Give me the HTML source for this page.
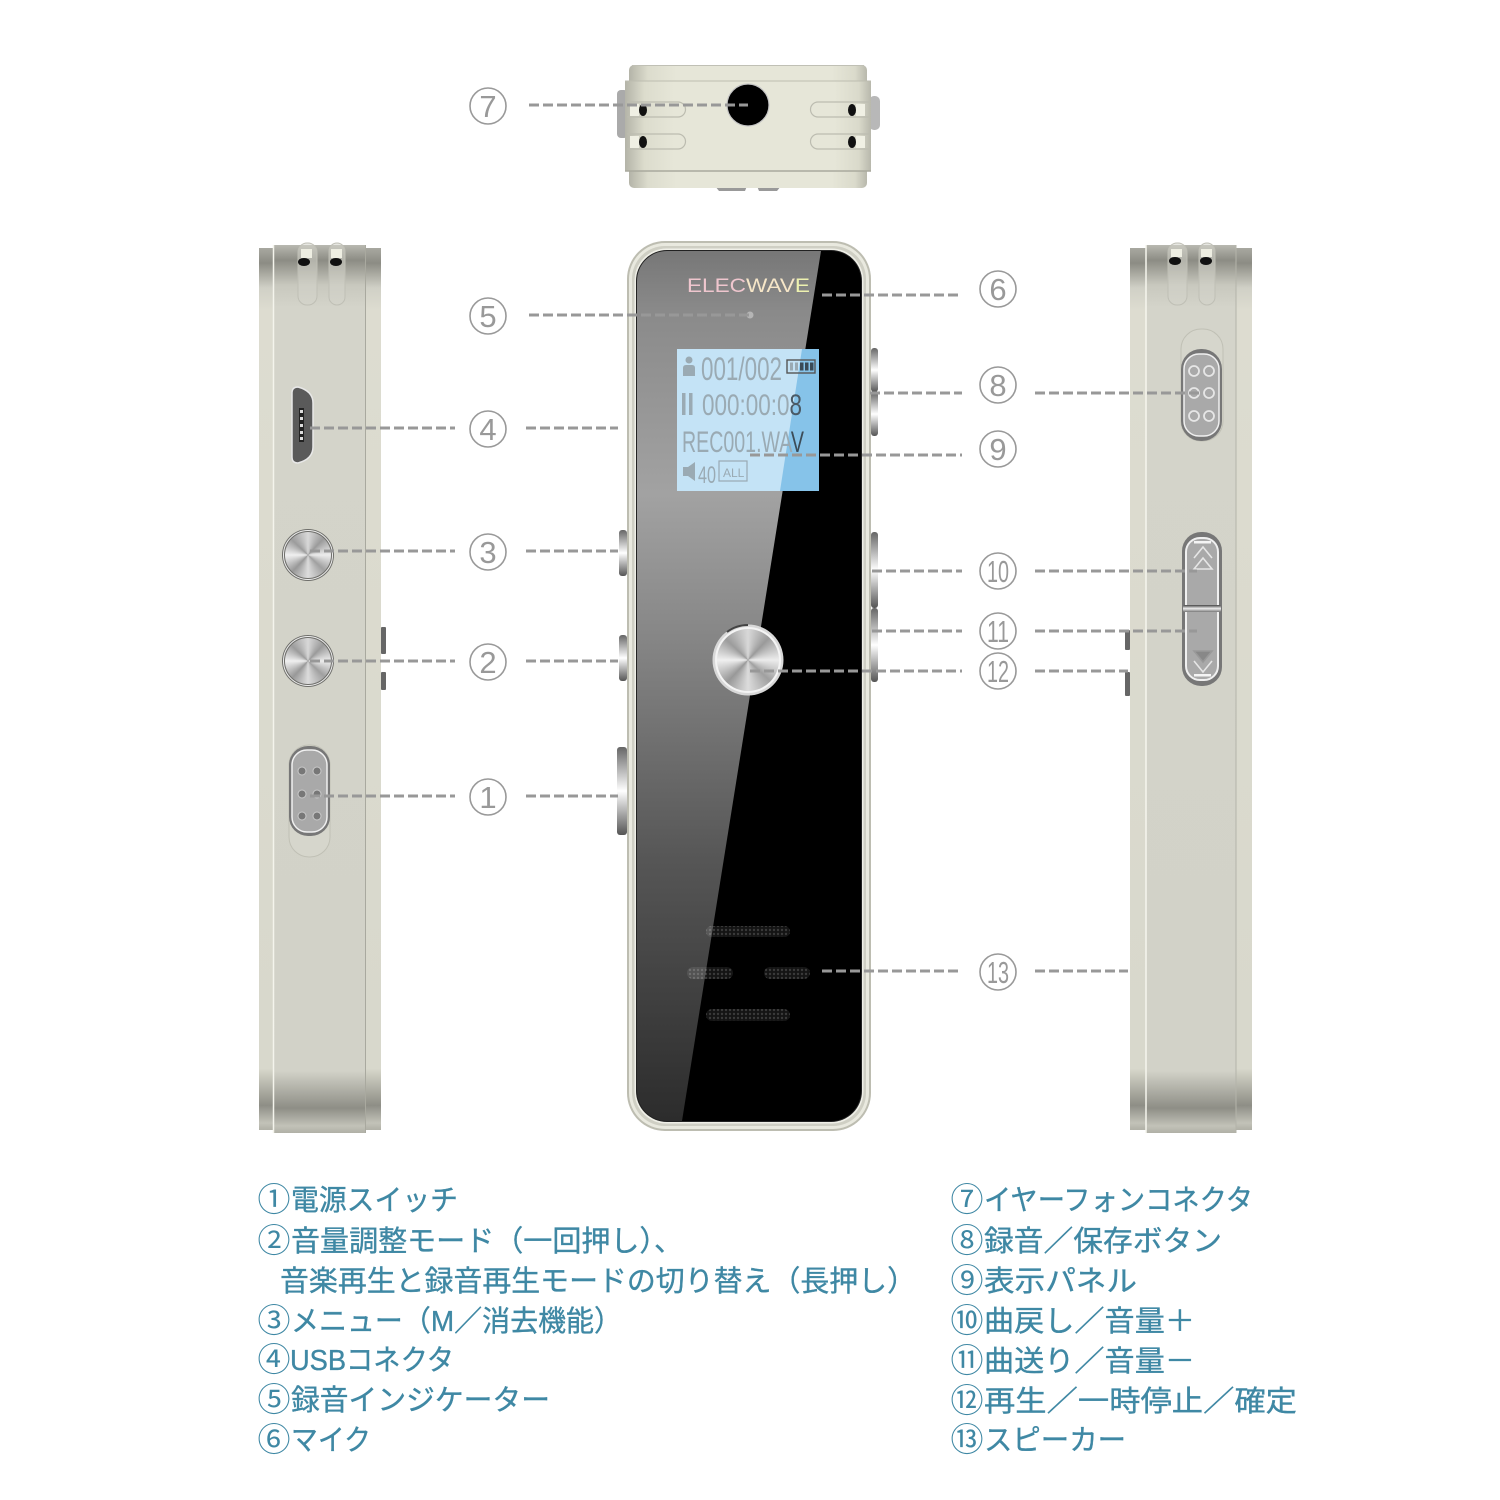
<!DOCTYPE html>
<html><head><meta charset="utf-8"><style>html,body{margin:0;padding:0;background:#fff}svg{display:block}
.t{font-family:"Liberation Sans","Noto Sans CJK JP",sans-serif;font-size:29px;fill:#3f88a4;stroke:#3f88a4;stroke-width:.35}
.c{font-family:"Noto Sans CJK JP",sans-serif;font-size:33px;fill:#3f88a4}
.n{font-family:"Liberation Sans",sans-serif;font-size:31px;fill:#999;text-anchor:middle}
.l{font-family:"Liberation Sans",sans-serif;fill:#9aaab3}
.k{width:100%;height:100%;border-radius:50%;background:conic-gradient(#d8d8d8,#9a9a9a 12%,#ececec 25%,#a0a0a0 37%,#dcdcdc 50%,#989898 62%,#f0f0f0 75%,#9c9c9c 87%,#d8d8d8)}
</style></head><body>
<svg width="1500" height="1500" viewBox="0 0 1500 1500">
<defs>
<linearGradient id="gl" x1="0" x2="0" y1="251" y2="1121" gradientUnits="userSpaceOnUse"><stop offset="0" stop-color="#777"/><stop offset=".07" stop-color="#8a8a8a"/><stop offset=".28" stop-color="#a2a2a2"/><stop offset=".45" stop-color="#858585"/><stop offset=".7" stop-color="#565656"/><stop offset="1" stop-color="#2c2c2c"/></linearGradient>
<linearGradient id="sd" x1="0" x2="0" y1="0" y2="1"><stop offset="0" stop-color="#b8b8b0"/><stop offset=".017" stop-color="#8c8c84"/><stop offset=".045" stop-color="#c8c8be"/><stop offset=".07" stop-color="#d4d4ca"/><stop offset=".93" stop-color="#d2d2c8"/><stop offset=".972" stop-color="#8e8e86"/><stop offset=".992" stop-color="#c2c2b8"/><stop offset="1" stop-color="#b0b0a6"/></linearGradient>
<linearGradient id="sl" x1="0" x2="0" y1="0" y2="1"><stop offset="0" stop-color="#a8a8a0"/><stop offset=".017" stop-color="#8c8c84"/><stop offset=".045" stop-color="#d0d0c6"/><stop offset=".07" stop-color="#dddcd0"/><stop offset=".93" stop-color="#d8d8cc"/><stop offset=".972" stop-color="#8e8e86"/><stop offset=".992" stop-color="#c2c2b8"/><stop offset="1" stop-color="#b0b0a6"/></linearGradient>
<linearGradient id="tp" x1="0" x2="1" y1="0" y2="0"><stop offset="0" stop-color="#b4b4a8"/><stop offset=".08" stop-color="#dcdccd"/><stop offset=".2" stop-color="#e6e6d8"/><stop offset=".85" stop-color="#e6e6d8"/><stop offset=".95" stop-color="#dadacb"/><stop offset="1" stop-color="#b8b8ac"/></linearGradient>
<linearGradient id="tb" x1="0" x2="0" y1="0" y2="1"><stop offset="0" stop-color="#666"/><stop offset=".5" stop-color="#fff"/><stop offset="1" stop-color="#555"/></linearGradient>
<linearGradient id="kn" x1="0" x2="0" y1="0" y2="1"><stop offset="0" stop-color="#444"/><stop offset=".5" stop-color="#eee"/><stop offset="1" stop-color="#777"/></linearGradient>
<pattern id="mesh" width="4" height="4" patternUnits="userSpaceOnUse"><rect width="4" height="4" fill="#fff" fill-opacity=".08"/><circle cx="2" cy="2" r="1.2" fill="#fff" fill-opacity=".16"/></pattern>
<clipPath id="scr"><rect x="637" y="251" width="224" height="870" rx="30"/></clipPath>
</defs>
<rect width="1500" height="1500" fill="#fff"/>

<!-- top view -->
<rect x="617" y="90" width="11" height="48" rx="4" fill="#aaa"/>
<rect x="869" y="96" width="11" height="34" rx="5" fill="#b8b8b8"/>
<path d="M715 186h32l-2 5h-26zM757 186h24l-4 5h-18z" fill="#999"/>
<rect x="629" y="65" width="238" height="123" rx="5" fill="url(#tp)"/>
<rect x="625" y="81" width="246" height="90" fill="url(#tp)"/>
<line x1="625" y1="81" x2="871" y2="81" stroke="#bdbdb0" stroke-width="1"/>
<line x1="625" y1="171" x2="871" y2="171" stroke="#a9a99d" stroke-width="1.5"/>
<line x1="632" y1="65.5" x2="864" y2="65.5" stroke="#c0c0b5" stroke-width="1"/>
<g fill="none" stroke="#bcbcb0" stroke-width="1.2">
<path d="M627 102h51a7.5 7.5 0 0 1 0 15h-51"/><path d="M627 134h51a7.5 7.5 0 0 1 0 15h-51"/>
<path d="M869 102h-51a7.5 7.5 0 0 0 0 15h51"/><path d="M869 134h-51a7.5 7.5 0 0 0 0 15h51"/></g>
<rect x="630" y="104" width="9" height="12" fill="#f0f0e4"/><rect x="630" y="136" width="9" height="12" fill="#f0f0e4"/>
<rect x="856" y="104" width="9" height="12" fill="#f0f0e4"/><rect x="856" y="136" width="9" height="12" fill="#f0f0e4"/>
<ellipse cx="643" cy="110" rx="4" ry="6" fill="#111"/><ellipse cx="643" cy="142" rx="4" ry="6" fill="#111"/>
<ellipse cx="852" cy="110" rx="4" ry="6" fill="#111"/><ellipse cx="852" cy="142" rx="4" ry="6" fill="#111"/>
<circle cx="748" cy="105" r="21" fill="#000" stroke="#c4c4c4" stroke-width="1.2"/>

<!-- left side view -->
<rect x="381" y="627" width="5" height="27" rx="1" fill="#666"/><rect x="381" y="672" width="5" height="18" rx="1" fill="#666"/>
<rect x="259" y="248" width="122" height="882" fill="url(#sl)"/>
<rect x="273" y="245" width="92" height="888" fill="url(#sd)"/>
<line x1="273.5" y1="245" x2="273.5" y2="1133" stroke="#f4f4ec" stroke-width="1.5"/>
<line x1="365.5" y1="245" x2="365.5" y2="1133" stroke="#a9a99f" stroke-width="1"/>
<rect x="298" y="243" width="19" height="62" rx="9" fill="#d4d4ca" fill-opacity=".55" stroke="#bfbfb5"/>
<rect x="329" y="243" width="16" height="62" rx="8" fill="#d4d4ca" fill-opacity=".55" stroke="#bfbfb5"/>
<rect x="301" y="249" width="11" height="9" fill="#eeeee2"/><rect x="331" y="249" width="11" height="9" fill="#eeeee2"/>
<ellipse cx="304" cy="262" rx="6" ry="4" fill="#111"/><ellipse cx="336" cy="262" rx="6" ry="4" fill="#111"/>
<path d="M292 393q0-6 6-6 15 4 15 16v44q0 12-15 16-6 0-6-6z" fill="#5a5a5a" stroke="#e8e8e8" stroke-width="1.5"/>
<rect x="299" y="408" width="5" height="34" fill="#222"/>
<g fill="#ddd"><rect x="300" y="410" width="3" height="3"/><rect x="300" y="417" width="3" height="3"/><rect x="300" y="424" width="3" height="3"/><rect x="300" y="431" width="3" height="3"/><rect x="300" y="437" width="3" height="3"/></g>
<circle cx="308" cy="555" r="26" fill="#6e6e6a"/><circle cx="308" cy="661" r="26" fill="#6e6e6a"/>
<circle cx="308" cy="555" r="24.5" fill="none" stroke="#eee" stroke-width="1"/><circle cx="308" cy="661" r="24.5" fill="none" stroke="#eee" stroke-width="1"/>
<foreignObject x="285" y="532" width="46" height="46"><div class="k"></div></foreignObject>
<foreignObject x="285" y="638" width="46" height="46"><div class="k"></div></foreignObject>
<rect x="289" y="745" width="41" height="112" rx="20" fill="#d6d6cc" stroke="#c0c0b5"/>
<rect x="289" y="746" width="41" height="90" rx="19" fill="#777"/>
<rect x="292" y="750" width="35" height="82" rx="15" fill="#a9a9a9" stroke="#f0f0f0" stroke-width="1.5"/>
<g fill="#777" stroke="#c8c8c8" stroke-width="1"><circle cx="302" cy="771" r="4"/><circle cx="317" cy="771" r="4"/><circle cx="302" cy="794" r="4"/><circle cx="317" cy="794" r="4"/><circle cx="302" cy="816" r="4"/><circle cx="317" cy="816" r="4"/></g>

<!-- right side view -->
<rect x="1125" y="630" width="5" height="20" rx="1" fill="#666"/><rect x="1125" y="672" width="5" height="24" rx="1" fill="#666"/>
<rect x="1130" y="248" width="122" height="882" fill="url(#sl)"/>
<rect x="1146" y="245" width="90" height="888" fill="url(#sd)"/>
<line x1="1146" y1="245" x2="1146" y2="1133" stroke="#f6f6ee" stroke-width="1.5"/>
<line x1="1236" y1="245" x2="1236" y2="1133" stroke="#b4b4aa" stroke-width="1"/>
<rect x="1168" y="243" width="19" height="62" rx="9" fill="#d4d4ca" fill-opacity=".55" stroke="#bfbfb5"/>
<rect x="1199" y="243" width="16" height="62" rx="8" fill="#d4d4ca" fill-opacity=".55" stroke="#bfbfb5"/>
<rect x="1171" y="249" width="11" height="8" fill="#eeeee2"/><rect x="1201" y="249" width="11" height="8" fill="#eeeee2"/>
<ellipse cx="1175" cy="261" rx="6" ry="4" fill="#111"/><ellipse cx="1206" cy="261" rx="6" ry="4" fill="#111"/>
<rect x="1181" y="329" width="42" height="112" rx="20" fill="#d6d6cc" stroke="#c0c0b5"/>
<rect x="1181" y="349" width="41" height="92" rx="20" fill="#777"/>
<rect x="1184" y="354" width="35" height="82" rx="15" fill="#a9a9a9" stroke="#f0f0f0" stroke-width="1.5"/>
<g fill="none" stroke="#e6e6e6" stroke-width="1.8"><circle cx="1194" cy="371" r="5"/><circle cx="1209" cy="371" r="5"/><circle cx="1194" cy="393" r="5"/><circle cx="1209" cy="393" r="5"/><circle cx="1194" cy="416" r="5"/><circle cx="1209" cy="416" r="5"/></g>
<rect x="1182" y="532" width="40" height="154" rx="19" fill="#777"/>
<rect x="1186" y="538" width="32" height="142" rx="14" fill="#a9a9a9" stroke="#f0f0f0" stroke-width="2"/>
<rect x="1183" y="605" width="38" height="7" rx="2" fill="url(#kn)"/>
<g fill="none" stroke="#e6e6e6" stroke-width="1.6"><path d="M1194 558l9-11 9 11"/><path d="M1194 569l9-11 9 11h-18z"/><path d="M1194 651l9 11 9-11z" fill="#888" stroke="#999"/><path d="M1194 661l9 11 9-11"/></g>
<rect x="1194" y="541" width="17" height="2.5" fill="#f4f4f4"/><rect x="1194" y="674" width="17" height="2.5" fill="#f4f4f4"/>

<!-- front -->
<rect x="619" y="530" width="8" height="46" rx="3" fill="url(#tb)"/>
<rect x="619" y="635" width="8" height="46" rx="3" fill="url(#tb)"/>
<rect x="617" y="747" width="10" height="88" rx="3" fill="url(#tb)"/>
<rect x="871" y="348" width="7" height="44" rx="3" fill="url(#tb)"/><rect x="871" y="392" width="7" height="44" rx="3" fill="url(#tb)"/>
<rect x="871" y="532" width="7" height="76" rx="3" fill="url(#tb)"/><rect x="871" y="608" width="7" height="74" rx="3" fill="url(#tb)"/>
<rect x="627" y="241" width="244" height="890" rx="38" fill="#bdbdb1"/>
<rect x="629" y="243" width="240" height="886" rx="36" fill="#e9e9df"/>
<rect x="632" y="246" width="234" height="880" rx="33" fill="#cfcfc4"/>
<rect x="634.5" y="248.5" width="229" height="875" rx="32" fill="#efefe7"/>
<rect x="636" y="250" width="226" height="872" rx="31" fill="#222"/>
<rect x="637" y="251" width="224" height="870" rx="30" fill="#000"/>
<polygon points="637,251 821,251 682,1121 637,1121" fill="url(#gl)" clip-path="url(#scr)"/>
<text x="687" y="292" font-family="'Liberation Sans',sans-serif" font-size="19" textLength="123" lengthAdjust="spacingAndGlyphs" fill="#efc6ce">ELEC<tspan fill="#f6e6c8">WAV</tspan><tspan fill="#eef2b0">E</tspan></text>
<circle cx="750" cy="315" r="3.5" fill="#b5b5b5"/>

<!-- LCD -->
<rect x="677" y="349" width="142" height="142" fill="#c4e3f6"/>
<polygon points="802,349 819,349 819,491 780,491" fill="#86c3e9"/>
<g class="l">
<circle cx="689" cy="360" r="3.5"/><path d="M683 376v-8q0-3 3-3h6q3 0 3 3v8z"/>
<text x="701" y="380" font-size="32" textLength="81" lengthAdjust="spacingAndGlyphs">001/002</text>
<rect x="682" y="393" width="3.5" height="22"/><rect x="689" y="393" width="3.5" height="22"/>
<text x="702" y="415" font-size="30" textLength="100" lengthAdjust="spacingAndGlyphs">000:00:0<tspan fill="#4a5a66">8</tspan></text>
<text x="682" y="452" font-size="30" textLength="122" lengthAdjust="spacingAndGlyphs">REC001.WA<tspan fill="#3c4c58">V</tspan></text>
<path d="M683 467h5l7-5v19l-7-5h-5z"/>
<text x="698" y="483" font-size="24" textLength="18" lengthAdjust="spacingAndGlyphs">40</text>
<text x="723" y="477" font-size="12">ALL</text>
</g>
<rect x="719" y="461" width="28" height="20" fill="none" stroke="#9aaab3" stroke-width="1.2"/>
<rect x="787" y="360" width="28" height="13" fill="none" stroke="#555" stroke-width="1.4"/>
<g fill="#9aaab3"><rect x="790" y="362.5" width="3" height="8"/><rect x="795" y="362.5" width="3" height="8"/></g>
<g fill="#3a4a56"><rect x="800" y="362.5" width="3.5" height="8"/><rect x="805" y="362.5" width="3.5" height="8"/><rect x="810" y="362.5" width="3.5" height="8"/></g>

<!-- button -->
<circle cx="748" cy="660" r="35.5" fill="#d8d8d8"/>
<path d="M727 632a35 35 0 0 1 21-7" fill="none" stroke="#444" stroke-width="2"/>
<circle cx="748" cy="660" r="33" fill="#f4f4f4"/>
<foreignObject x="717" y="629" width="62" height="62"><div class="k"></div></foreignObject>

<!-- speaker -->
<g fill="url(#mesh)">
<rect x="706" y="926" width="84" height="11" rx="5.5"/>
<rect x="687" y="967" width="46" height="12" rx="6"/>
<rect x="764" y="967" width="46" height="12" rx="6"/>
<rect x="706" y="1009" width="84" height="12" rx="6"/>
</g>

<!-- leaders -->
<g stroke="#989898" stroke-width="3" stroke-dasharray="10 4" fill="none">
<path d="M529 105H748"/><path d="M529 315H750"/><path d="M822 295H962"/>
<path d="M310 428H455"/><path d="M526 428H618"/>
<path d="M310 551H455"/><path d="M526 551H618"/>
<path d="M310 661H455"/><path d="M526 661H618"/>
<path d="M310 796H455"/><path d="M526 796H618"/>
<path d="M870 393H962"/><path d="M1035 393H1200"/>
<path d="M750 455H962"/>
<path d="M872 571H962"/><path d="M1035 571H1197"/>
<path d="M872 631H962"/><path d="M1035 631H1197"/>
<path d="M750 671H962"/><path d="M1035 671H1128"/>
<path d="M822 971H962"/><path d="M1035 971H1128"/>
</g>

<!-- number badges -->
<g fill="none" stroke="#999" stroke-width="1.6">
<circle cx="488" cy="106" r="18"/><circle cx="488" cy="316" r="18"/><circle cx="998" cy="289" r="18"/>
<circle cx="488" cy="429" r="18"/><circle cx="488" cy="552" r="18"/><circle cx="488" cy="662" r="18"/><circle cx="488" cy="797" r="18"/>
<circle cx="998" cy="385" r="18"/><circle cx="998" cy="449" r="18"/><circle cx="998" cy="571" r="18"/><circle cx="998" cy="631" r="18"/><circle cx="998" cy="671" r="18"/><circle cx="998" cy="972" r="18"/>
</g>
<g class="n">
<text x="488" y="117">7</text><text x="488" y="327">5</text><text x="998" y="300">6</text>
<text x="488" y="440">4</text><text x="488" y="563">3</text><text x="488" y="673">2</text><text x="488" y="808">1</text>
<text x="998" y="396">8</text><text x="998" y="460">9</text>
<text x="998" y="582" textLength="22" lengthAdjust="spacingAndGlyphs">10</text>
<text x="998" y="642" textLength="22" lengthAdjust="spacingAndGlyphs">11</text>
<text x="998" y="682" textLength="22" lengthAdjust="spacingAndGlyphs">12</text>
<text x="998" y="983" textLength="22" lengthAdjust="spacingAndGlyphs">13</text>
</g>

<!-- legend -->
<g class="c">
<text x="257.5" y="1211">①</text><text x="257.5" y="1252">②</text><text x="257.5" y="1332">③</text><text x="257.5" y="1371">④</text><text x="257.5" y="1411">⑤</text><text x="257.5" y="1451">⑥</text>
<text x="950.5" y="1211">⑦</text><text x="950.5" y="1252">⑧</text><text x="950.5" y="1292">⑨</text><text x="950.5" y="1332">⑩</text><text x="950.5" y="1372">⑪</text><text x="950.5" y="1412">⑫</text><text x="950.5" y="1451">⑬</text>
</g>
<g class="t">
<text x="291" y="1210" textLength="167" lengthAdjust="spacingAndGlyphs">電源スイッチ</text>
<text x="291" y="1251" textLength="392" lengthAdjust="spacingAndGlyphs">音量調整モード（一回押し）、</text>
<text x="280" y="1291" textLength="636" lengthAdjust="spacingAndGlyphs">音楽再生と録音再生モードの切り替え（長押し）</text>
<text x="291" y="1331" textLength="331" lengthAdjust="spacingAndGlyphs">メニュー（M／消去機能）</text>
<text x="290" y="1370" textLength="164" lengthAdjust="spacingAndGlyphs">USBコネクタ</text>
<text x="291" y="1410" textLength="259" lengthAdjust="spacingAndGlyphs">録音インジケーター</text>
<text x="291" y="1450" textLength="80" lengthAdjust="spacingAndGlyphs">マイク</text>
<text x="984" y="1210" textLength="269" lengthAdjust="spacingAndGlyphs">イヤーフォンコネクタ</text>
<text x="984" y="1251" textLength="238" lengthAdjust="spacingAndGlyphs">録音／保存ボタン</text>
<text x="984" y="1291" textLength="153" lengthAdjust="spacingAndGlyphs">表示パネル</text>
<text x="984" y="1331" textLength="211" lengthAdjust="spacingAndGlyphs">曲戻し／音量＋</text>
<text x="984" y="1371" textLength="211" lengthAdjust="spacingAndGlyphs">曲送り／音量－</text>
<text x="984" y="1411" textLength="313" lengthAdjust="spacingAndGlyphs">再生／一時停止／確定</text>
<text x="984" y="1450" textLength="142" lengthAdjust="spacingAndGlyphs">スピーカー</text>
</g>
</svg>
</body></html>
